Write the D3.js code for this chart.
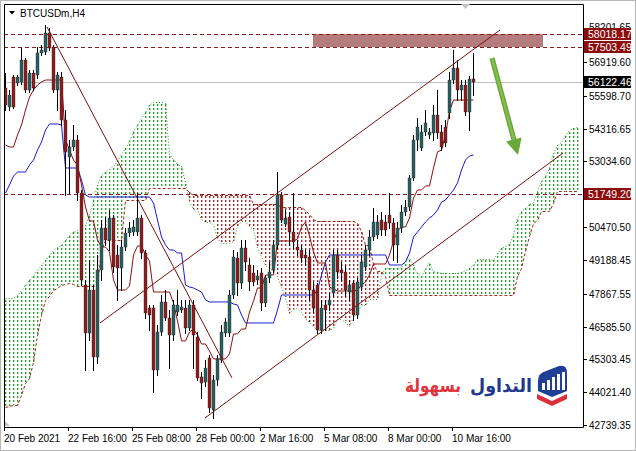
<!DOCTYPE html>
<html><head><meta charset="utf-8">
<script src="https://cdn.jsdelivr.net/npm/d3@7"></script>
<style>html,body{margin:0;padding:0;background:#fff;overflow:hidden}</style>
</head><body>
<svg id="chart" width="636" height="451"></svg>
<script>
// ---------- DATA (BTCUSDm, H4 bars from 20 Feb 2021 00:00) ----------
const openP = [55904,55161,56333,56099,56138,56997,55826,56490,56411,57271,
57310,58052,57505,55826,56333,54654,53209,53599,53873,51803,
48209,46334,48014,45397,48795,50435,49967,50826,49381,48873,
49693,50240,50279,50279,50826,49459,47311,47311,44889,46373,
47545,46920,46256,47154,47232,47311,46529,47428,46178,44615,
44420,45358,43326,44498,45279,46334,46334,47818,49263,48287,
49654,48990,48677,48404,48677,47506,48482,48795,49771,51724,
50592,50865,50279,49693,49576,49381,49302,48014,48209,46451,
47428,47428,47896,49381,48795,48716,47935,48287,47037,48131,
48912,49576,50084,50162,50748,50670,50943,50631,49771,50435,
51060,51255,52388,53873,53560,54185,54068,54146,54849,54185,
54380,54927,56216,56685,55826,56021,54966,56255];
const highP = [56490,55826,56411,56411,57466,57076,56607,56607,57505,57583,
58364,58247,57583,56529,56529,55044,53873,54458,54068,51920,
48404,49185,48209,49381,50748,50865,51138,50943,49771,49967,
50435,50670,50748,51803,50943,49576,47428,47428,46646,47818,
48014,47232,47623,48014,47623,47623,47623,47623,46373,44811,
45279,45475,44694,45475,46646,46920,48014,49576,49498,49967,
49967,49263,48990,48795,48873,48599,49107,49967,52623,51842,
51138,51060,51803,49967,49771,49576,49576,48326,48287,47623,
47623,47896,49576,49576,49107,48990,48404,48404,48482,49381,
49771,50357,51216,50943,51060,50943,51803,50826,50670,51333,
51529,52505,54068,54732,54458,55044,54341,55240,55826,54458,
54654,56529,57388,56997,56216,56216,56372,57271];
const lowP = [55044,55044,55122,56021,56060,55747,55747,55826,56294,57193,
57232,57388,55747,55044,54458,51724,51803,53482,51529,48209,
44889,46061,44889,45162,48404,49771,49576,48716,47623,48014,
49576,50123,50162,50162,49263,46920,46451,44029,44694,46256,
46842,44967,46061,47037,47154,46334,46451,44967,44498,43795,
44264,43248,43014,44303,45201,46217,46217,47701,47818,48092,
48795,48014,48209,48248,47232,47389,48326,48716,49654,50670,
50513,49771,49654,49381,49107,48990,47623,47154,46334,46334,
46451,47232,47779,48482,48404,47779,47623,46842,46920,48014,
48795,49381,49967,50045,50162,50162,50435,49185,49107,50279,
50943,51138,52310,53482,53482,54068,53951,53873,53951,53482,
53638,54732,56099,55435,55435,54849,54263,55630];
const closeP = [55240,55630,55161,56333,56997,55826,56490,55904,57271,57388,
58052,57466,55826,56411,54654,53404,53599,53873,51803,48404,
46334,48014,45397,48795,50435,49967,50826,48912,48873,49693,
50240,50435,50474,50826,49459,47115,47037,44889,46373,47545,
46920,46256,47428,47428,47350,46529,47428,46256,44576,44381,
44967,43404,44498,45319,46373,46764,47818,49302,48287,49654,
49107,48326,48326,48560,47506,48482,48716,49771,51724,50748,
50826,50279,49888,49576,49263,49263,48014,47311,46451,47311,
47232,47623,49381,48716,48677,48014,48209,47037,48326,49107,
49576,50084,50670,50670,50357,50357,50631,49771,50435,51060,
51255,52388,53873,54380,54185,54537,54185,54849,54146,53599,
53755,56216,56685,55826,56021,54966,56255,56122];
const tenkan = [53677,53599,53599,54068,54458,55044,55552,55826,56021,56138,
56216,56216,56216,56216,56216,53873,53482,53091,52896,52115,
51255,50709,50709,49967,49693,49693,49498,48404,48014,48014,
48014,48170,49381,49732,49732,49381,49146,47935,47935,47935,
47935,47935,47506,46803,46022,46022,46373,46490,46256,45904,
45904,45631,45319,45319,45319,45319,45514,46295,46295,46490,
46490,47154,47584,48092,48092,48599,48599,48599,49928,49928,
49928,49928,49928,50006,50474,50670,50123,49498,49068,49068,
49068,48131,48053,47975,47975,47975,47975,47975,48014,48209,
48326,48599,49029,49029,49029,49029,49381,49928,50318,50474,
50474,50826,51607,51920,51920,52076,52076,52779,53404,53482,
54068,55005,55435,55435,55435,55435,55435,55435];
const kijun = [51803,52115,52466,52623,52623,52623,52896,53091,53482,53794,
54263,54498,54498,54498,54458,52779,52779,52779,52779,52310,
51724,51646,51646,51646,51646,51646,51646,51646,51646,51646,
51646,51646,51646,51646,51646,51646,51646,51412,50748,50084,
49771,49576,49576,49459,49459,48209,48131,48092,48014,47935,
47623,47545,47545,47545,47545,47545,47545,47467,47428,47037,
46725,46725,46725,46725,46725,46725,46725,46725,47232,47818,
47818,47818,47818,47818,47818,47818,47818,47818,48014,48599,
49107,49381,49381,49381,49381,49381,49381,49381,49381,49381,
49381,49381,49381,49381,49381,49381,48990,48990,48990,48990,
49107,49459,50084,50279,50474,50670,50826,50943,51138,51451,
51529,51724,51920,52193,52701,53091,53248,53287];
// Senkou spans as displayed (already shifted 26 bars ahead)
const spanA = [47701,47701,47701,47818,48014,48209,48404,48599,48795,48990,
49185,49381,49576,49693,49771,49967,50162,50279,50357,50435,
50552,50943,51529,52115,52505,52623,52740,52857,53033,53345,
53541,53834,54224,54458,54751,54966,55240,55357,55357,55357,
55337,53326,53130,52935,52838,52213,51490,51177,51177,50806,
50670,50670,50572,50025,49830,49830,49830,49908,50513,50689,
50689,50513,50396,49674,49342,49009,48853,48756,48541,48131,
47740,47115,47252,47291,47135,46920,46764,46588,46432,46432,
46432,46432,46529,46881,46861,46764,46607,46939,47154,47408,
47408,47662,47662,47662,48580,48873,48873,48873,48873,48912,
49146,49244,48971,48658,48541,48834,49088,48756,48716,48677,
48677,48677,48677,48677,48697,48795,48853,48990,49205,49205,
49205,49205,49185,49459,49654,49732,49791,50142,50845,51099,
51197,51373,51451,51861,52271,52466,52798,53365,53677,53814,
54068,54263,54341,54361];
const spanB = [43444,43483,43522,43522,43912,44381,44576,45201,46256,47037,
47623,47779,48014,48092,48209,48248,48287,48248,48170,48170,
48170,48170,48170,48170,49576,49967,49967,49967,49967,49967,
51529,51529,51529,51529,51529,51529,51998,51998,51998,51998,
51998,51998,51998,51998,51998,51998,51842,51724,51724,51724,
51724,51724,51724,51724,51724,51724,51724,51724,51724,51724,
51724,51724,51373,51373,51373,51373,51373,51373,51373,51255,
51255,51255,51255,51255,51255,51138,50982,50806,50689,50689,
50689,50689,50689,50689,50689,50689,50689,50689,50631,50299,
49771,49771,49029,48736,48736,48541,47818,47818,47818,47818,
47818,47818,47818,47818,47818,47818,47818,47818,47818,47818,
47818,47818,47818,47818,47818,47818,47818,47818,47818,47818,
47818,47818,47818,47818,47818,47818,47818,47818,48541,48873,
49517,50123,50631,50728,51080,51080,51080,51431,51861,51861,
51861,51861,51861,51861];
const yTickValues = [42739.35,44021.40,45303.45,46585.50,47867.55,49188.45,50470.50,51752.55,53034.60,54316.65,55598.70,56919.60,58201.65];
const xTickBars = [0,16,32,48,64,80,96,112];
const xTickLabels = ["20 Feb 2021","22 Feb 16:00","25 Feb 08:00","28 Feb 00:00","2 Mar 16:00","5 Mar 08:00","8 Mar 00:00","10 Mar 16:00"];
const levelPrices = [58018.17,57503.49,51749.20];
const bidPrice = 56122.46;
const zoneBars = [77,134.5];
const zonePrices = [58018.17,57503.49];
const trendLines = [[10.5,58286,56.75,44576],[23.75,46725,123.75,58169],[50,43014,139.5,53365]];
const arrowLine = [121.75,57076,128.25,53287];
const symbolTitle = "BTCUSDm,H4";
const logoWords = ["التداول","بسهولة"];

// ---------- DRAWING ----------
const svg = d3.select("#chart");
const FONT = "'Liberation Sans', Arial, sans-serif";
const L=4, T=4, R=583, B=427;
const x = d3.scaleLinear().domain([0,143]).range([5,577]);
const y = d3.scaleLinear().domain([42739.35,56919.60]).range([425,62]);
const px = v => Math.round(x(v)) + 0.5;
const py = v => Math.round(y(v)) + 0.5;

svg.append("rect").attr("width",636).attr("height",451).attr("fill","#fff");
svg.append("rect").attr("x",0.5).attr("y",0.5).attr("width",635).attr("height",450)
  .attr("fill","none").attr("stroke","#b8b8b8");

const defs = svg.append("defs");
defs.append("clipPath").attr("id","plotClip").append("rect")
  .attr("x",L).attr("y",T).attr("width",R-L).attr("height",B-T);
// dotted hatch patterns (one dot column every bar = 4px)
[["dotG","#2a9e2a","#b4dcb4"],["dotR","#a82424","#dcb0b0"]].forEach(([id,c,c2])=>{
  const p = defs.append("pattern").attr("id",id).attr("patternUnits","userSpaceOnUse")
    .attr("x",0).attr("y",0).attr("width",4).attr("height",4);
  p.append("rect").attr("x",1).attr("y",0).attr("width",1).attr("height",2).attr("fill",c);
  p.append("rect").attr("x",2).attr("y",0).attr("width",1).attr("height",2).attr("fill",c2);
});

const g = svg.append("g").attr("clip-path","url(#plotClip)");

// zone rectangle
g.append("rect")
  .attr("x", Math.round(x(zoneBars[0]))).attr("y", Math.round(y(zonePrices[0])))
  .attr("width", Math.round(x(zoneBars[1])-x(zoneBars[0])))
  .attr("height", Math.round(y(zonePrices[1])-y(zonePrices[0])))
  .attr("fill","#b47c7c");

// cloud hatch
const cloudIdx = d3.range(spanA.length);
g.append("g").attr("class","hatch").selectAll("rect").data(cloudIdx).join("rect")
  .attr("x", j=>Math.round(x(j)))
  .attr("width", 2)
  .attr("y", j=>Math.round(Math.min(y(spanA[j]),y(spanB[j]))))
  .attr("height", j=>Math.max(1, Math.round(Math.abs(y(spanA[j])-y(spanB[j])))))
  .attr("fill", j=> spanA[j]>=spanB[j] ? "url(#dotG)" : "url(#dotR)");

const spanLine = d3.line().x((d,j)=>px(j)).y(d=>py(d));
g.append("path").attr("d", spanLine(spanA)).attr("fill","none")
  .attr("stroke","#1e9a2a").attr("stroke-dasharray","1,2");
g.append("path").attr("d", spanLine(spanB)).attr("fill","none")
  .attr("stroke","#9a2a1a").attr("stroke-dasharray","3,2");

// horizontal levels
g.selectAll("line.lvl").data(levelPrices).join("line").attr("class","lvl")
  .attr("x1",L).attr("x2",R).attr("y1",d=>py(d)).attr("y2",d=>py(d))
  .attr("stroke","#8b1a1a").attr("stroke-dasharray","4,3");
g.append("line").attr("x1",L).attr("x2",R).attr("y1",py(bidPrice)).attr("y2",py(bidPrice))
  .attr("stroke","#c0c0c0");

// kijun & tenkan
const lineGen = d3.line().x((d,i)=>px(i)).y(d=>y(d));
g.append("path").attr("d", lineGen(kijun)).attr("fill","none").attr("stroke","#1a1ad0");
g.append("path").attr("d", lineGen(tenkan)).attr("fill","none").attr("stroke","#8b1010");

// candles
const candleIdx = d3.range(openP.length);
g.append("g").attr("class","wicks").selectAll("line").data(candleIdx).join("line")
  .attr("x1", i=>px(i)).attr("x2", i=>px(i))
  .attr("y1", i=>Math.round(y(highP[i]))).attr("y2", i=>Math.round(y(lowP[i]))+1)
  .attr("stroke","#000");
g.append("g").attr("class","bodies").selectAll("rect").data(candleIdx).join("rect")
  .attr("x", i=>Math.round(x(i))-1)
  .attr("y", i=>Math.round(y(Math.max(openP[i],closeP[i]))))
  .attr("width",3)
  .attr("height", i=>Math.max(1, Math.round(Math.abs(y(openP[i])-y(closeP[i])))))
  .attr("fill", i=> closeP[i]>=openP[i] ? "#2c6060" : "#921c1c")
  .attr("stroke", "#1a1a1a").attr("stroke-width",0.35);

// trend lines
g.selectAll("line.tl").data(trendLines).join("line").attr("class","tl")
  .attr("x1",d=>x(d[0])).attr("y1",d=>y(d[1])).attr("x2",d=>x(d[2])).attr("y2",d=>y(d[3]))
  .attr("stroke","#7a1010").attr("stroke-width",1);

// green arrow
(function(){
  const x1=x(arrowLine[0]), y1=y(arrowLine[1]), x2=x(arrowLine[2]), y2=y(arrowLine[3]);
  const dx=x2-x1, dy=y2-y1, len=Math.hypot(dx,dy), ux=dx/len, uy=dy/len, nx=-uy, ny=ux;
  const hl=16, hw=8;
  const bx=x2-ux*hl, by=y2-uy*hl;
  const grad = defs.append("linearGradient").attr("id","arrG")
    .attr("gradientUnits","userSpaceOnUse")
    .attr("x1",x1+nx*3).attr("y1",y1+ny*3).attr("x2",x1-nx*3).attr("y2",y1-ny*3);
  grad.append("stop").attr("offset","0").attr("stop-color","#4f8f22");
  grad.append("stop").attr("offset","0.5").attr("stop-color","#8cc653");
  grad.append("stop").attr("offset","1").attr("stop-color","#4f8f22");
  g.append("line").attr("x1",x1).attr("y1",y1).attr("x2",bx+ux*2).attr("y2",by+uy*2)
    .attr("stroke","url(#arrG)").attr("stroke-width",5);
  g.append("path").attr("d",`M${x2},${y2}L${bx+nx*hw},${by+ny*hw}L${bx-nx*hw},${by-ny*hw}Z`)
    .attr("fill","#6aa83a");
})();

// frame & axes
svg.append("path").attr("d",`M${L+0.5},${B+0.5}V${T+0.5}H${R+0.5}V${B+0.5}H${L+0.5}`)
  .attr("fill","none").attr("stroke","#000");

// y ticks (a label sitting under a price box stays partly hidden, as in the terminal)
const boxPrices = levelPrices.concat([bidPrice]);
const yt = svg.append("g");
yTickValues.forEach(v=>{
  const yc = Math.round(y(v));
  yt.append("line").attr("x1",R).attr("x2",R+4).attr("y1",yc+0.5).attr("y2",yc+0.5).attr("stroke","#000");
  const near = boxPrices.filter(p=>Math.abs(y(p)-y(v))<12);
  if (near.length) {
    const topEdge = Math.min(...near.map(p=>Math.round(y(p))-6));
    if (topEdge - (yc-5) >= 2) {
      const cid = "tc"+Math.round(v);
      defs.append("clipPath").attr("id",cid).append("rect")
        .attr("x",R+1).attr("y",yc-9).attr("width",52).attr("height",topEdge-(yc-9));
      yt.append("g").attr("clip-path",`url(#${cid})`).append("text")
        .attr("x",R+6).attr("y",yc+2)
        .attr("font-family",FONT).attr("font-size",10).attr("fill","#000").text(v.toFixed(2));
    }
  } else {
    yt.append("text").attr("x",R+6).attr("y",yc+4)
      .attr("font-family",FONT).attr("font-size",10).attr("fill","#000").text(v.toFixed(2));
  }
});
// price label boxes
const boxes = levelPrices.map(p=>({p, c:"#8b0d0d"})).concat([{p:bidPrice, c:"#000"}]);
boxes.forEach(b=>{
  const yc = Math.round(y(b.p));
  svg.append("rect").attr("x",R+1).attr("y",yc-6).attr("width",47).attr("height",12).attr("fill",b.c);
  svg.append("text").attr("x",R+5).attr("y",yc+4).attr("font-family",FONT).attr("font-size",10.5)
    .attr("fill","#fff").text(b.p.toFixed(2));
});

// x ticks
xTickBars.forEach((b,k)=>{
  svg.append("line").attr("x1",px(b)-1).attr("x2",px(b)-1).attr("y1",B).attr("y2",B+4).attr("stroke","#000");
  svg.append("text").attr("x",Math.round(x(b))-1).attr("y",442)
    .attr("font-family",FONT).attr("font-size",10).attr("fill","#000").text(xTickLabels[k]);
});

// title
svg.append("path").attr("d","M9,11L15,11L12,14.5Z").attr("fill","#000");
svg.append("text").attr("x",20).attr("y",17).attr("font-family",FONT).attr("font-size",10)
  .attr("fill","#000").text(symbolTitle);

// small markers
svg.append("path").attr("d","M461,4L470,4L465.5,9Z").attr("fill","#c4c4c4");
svg.append("path").attr("d","M5,421L5,426L10,426Z").attr("fill","#c4c4c4");

// logo
const lg = svg.append("g");
lg.append("path").attr("d","M538,381Q538,373 546,371L559,366Q567,364 567,373L567,391L552,397L538,391Z").attr("fill","#1f3f95");
[[542,386,383],[547,386,380],[552,386,377],[557,386,374],[562,386,372]].forEach(b=>{
  lg.append("rect").attr("x",b[0]).attr("y",b[2]).attr("width",3).attr("height",b[1]-b[2]+4).attr("fill","#fff");
});
lg.append("path").attr("d","M537,394L552,401L567,394L567,399L552,406L537,399Z").attr("fill","#d8323c");
function logoText(word, cx, target, color){
  const t = lg.append("text").attr("text-anchor","middle")
    .attr("font-family","'DejaVu Sans', sans-serif").attr("font-weight","bold").attr("font-size",20)
    .attr("fill",color).text(word);
  const w = t.node().getComputedTextLength() || target;
  const fs = 20*target/w;
  t.attr("font-size",fs).attr("transform",`translate(${cx},392) scale(1,${20/fs*0.95})`);
}
logoText(logoWords[0], 501, 62, "#1f3a8c");
logoText(logoWords[1], 433, 56, "#e0343e");
</script>
</body></html>
